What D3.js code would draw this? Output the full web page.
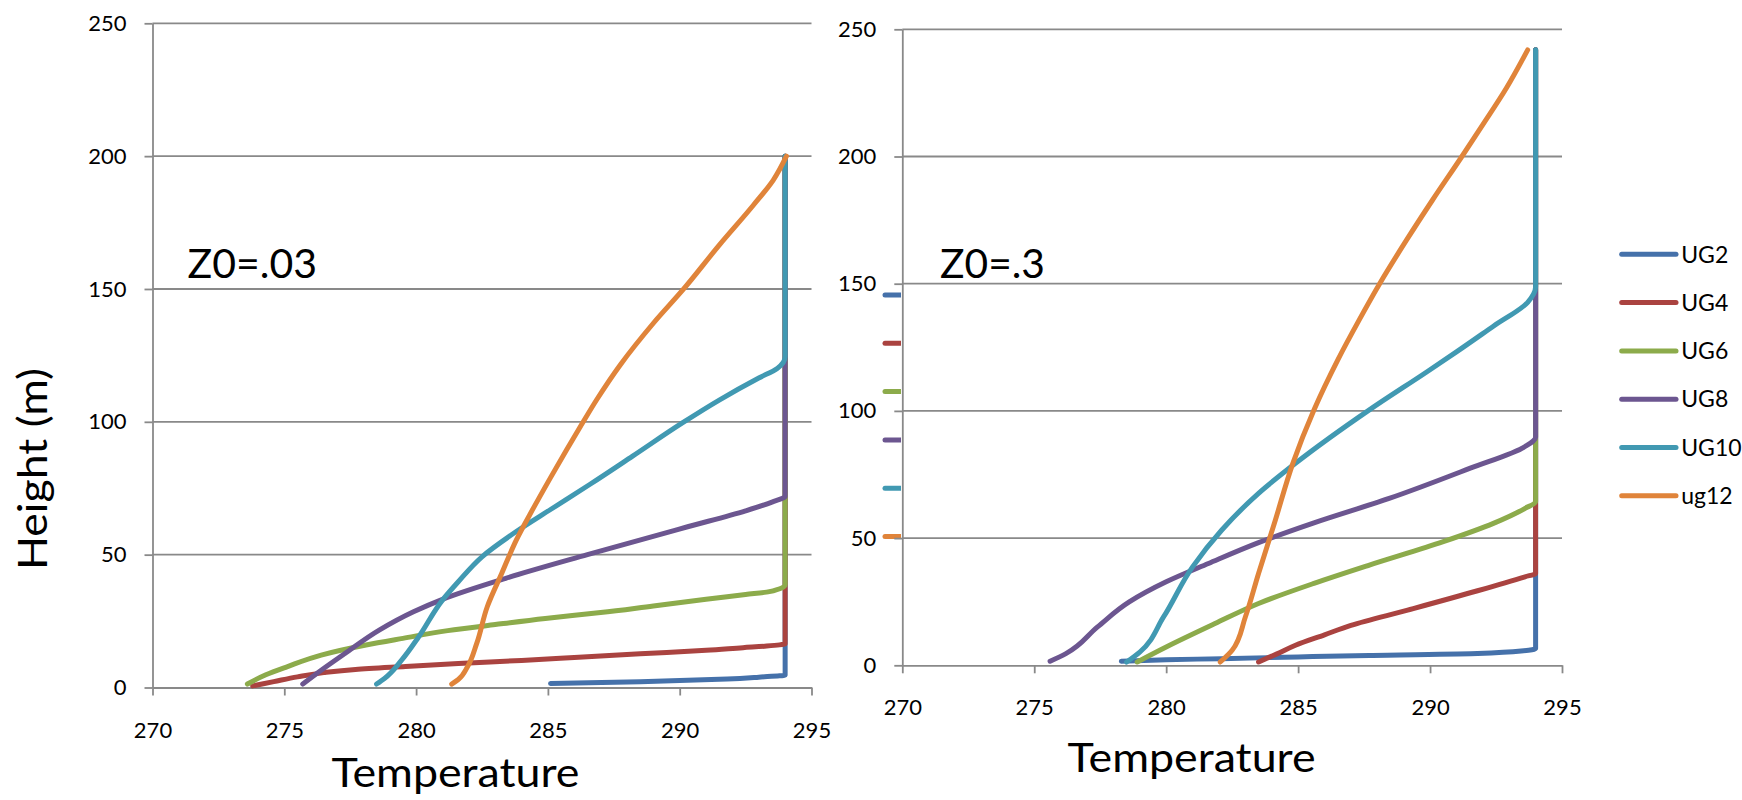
<!DOCTYPE html>
<html>
<head>
<meta charset="utf-8">
<script src="https://cdn.jsdelivr.net/npm/d3@7"></script>
<style>
  html, body { margin: 0; padding: 0; background: #fff; }
  svg { display: block; font-family: Lato, "Open Sans", "Liberation Sans", sans-serif; }
</style>
</head>
<body>
<svg id="chart" width="1742" height="800"></svg>
<script>
// Axis ticks
const tempTicks = [270, 275, 280, 285, 290, 295];
const heightTicks = [0, 50, 100, 150, 200, 250];

// Series names and colours
const seriesNames = ["UG2", "UG4", "UG6", "UG8", "UG10", "ug12"];
const seriesColors = ["#4571aa", "#aa4340", "#8cab4b", "#6c5690", "#4199b2", "#e0843a"];

// Profiles for Z0 = 0.03: [temperature, height]
const ug2_z003 = [[285.1,1.5],[288.5,2.2],[291.8,3.2],[293.0,3.9],[294.0,4.7],[294.0,200]];
const ug4_z003 = [[273.8,0.6],[274.6,2.2],[275.5,4.0],[276.5,5.6],[277.7,6.8],[279.6,7.9],[281.6,9.0],[284.0,10.2],[286.0,11.3],[288.5,12.7],[291.0,14.0],[292.4,15.0],[293.3,15.6],[294.0,16.5],[294.0,200]];
const ug6_z003 = [[273.6,1.3],[274.3,4.8],[275.1,7.8],[276.4,12.2],[278.1,16.0],[279.5,18.5],[281.2,21.4],[283.0,23.7],[284.9,26.0],[287.0,28.2],[289.0,30.7],[291.0,33.2],[292.5,35.0],[293.4,36.1],[294.0,38.6],[294.0,200]];
const ug8_z003 = [[275.7,1.3],[276.4,6.5],[277.3,12.8],[278.6,21.6],[279.9,28.5],[281.0,33.2],[283.4,41.1],[286.5,50.0],[290.3,60.5],[292.5,66.5],[293.5,69.8],[294.0,72.0],[294.0,200]];
const ug10_z003 = [[278.5,1.3],[278.8,3.4],[279.45,10.3],[280.1,19.1],[281.0,32.9],[281.6,39.8],[282.5,49.2],[283.8,58.7],[285.1,67.0],[286.6,76.5],[288.2,87.0],[290.1,99.6],[291.5,108.2],[293.0,116.5],[293.7,120.1],[294.0,124.5],[294.0,200]];
const ug12_z003 = [[281.35,1.3],[281.6,3.0],[281.95,7.8],[282.3,16.6],[282.7,30.4],[283.25,43.0],[283.8,55.5],[284.45,67.5],[285.1,79.0],[285.7,89.3],[286.25,98.5],[286.85,108.3],[287.75,121.5],[289.0,137.1],[290.15,150.0],[291.5,166.5],[292.8,181.6],[293.55,191.0],[294.05,200]];

// Profiles for Z0 = 0.3: [temperature, height]
const ug2_z03 = [[278.3,1.6],[280.0,2.2],[282.1,2.6],[285.0,3.3],[287.7,3.9],[291.8,4.6],[294.0,6.6],[294.0,242]];
const ug4_z03 = [[283.5,1.3],[284.2,4.5],[284.9,7.9],[286.0,12.0],[287.0,15.7],[289.15,21.7],[291.8,29.3],[293.6,34.8],[294.0,36.1],[294.0,242]];
const ug6_z03 = [[278.9,1.3],[280.0,7.2],[281.85,16.4],[283.5,24.3],[285.6,32.2],[287.7,39.4],[290.5,48.6],[292.4,55.8],[293.6,61.7],[294.0,64.3],[294.0,242]];
const ug8_z03 = [[275.6,1.6],[276.2,4.6],[277.4,15.1],[278.6,24.9],[280.0,32.8],[281.6,40.0],[283.5,48.2],[285.6,56.0],[288.45,65.6],[291.5,77.4],[293.6,86.0],[294.0,89.6],[294.0,242]];
const ug10_z03 = [[278.5,1.3],[279.0,5.2],[279.9,19.0],[281.0,38.7],[282.1,53.1],[283.5,67.6],[284.9,79.4],[287.7,100.4],[289.9,115.5],[291.0,123.2],[292.4,133.3],[293.7,142.7],[294.0,148.8],[294.0,242]];
const ug12_z03 = [[282.05,1.3],[282.5,5.9],[283.0,19.0],[283.5,36.1],[284.1,55.8],[284.8,79.4],[285.6,100.4],[286.5,120.0],[287.3,135.5],[288.1,150.2],[289.1,167.0],[290.1,183.0],[291.2,199.9],[292.0,212.5],[292.9,227.0],[293.7,241.9]];

const panelLabels = ["Z0=.03", "Z0=.3"];
const xTitle = "Temperature";
const yTitle = "Height (m)";

const svg = d3.select("#chart");
const gridColor = "#898989";

const panels = [
  {
    series: [ug2_z003, ug4_z003, ug6_z003, ug8_z003, ug10_z003, ug12_z003],
    x0: 152.5, x1: 811.5, y0: 687.5, y1: 23.3,
    label: panelLabels[0], labelX: 187.5, labelY: 278, labelLen: 129.5,
    titleX: 455.5, titleY: 786.7, xPad: 27,
    legend: { x: 885, y: 295, clip: 901, text: false }
  },
  {
    series: [ug2_z03, ug4_z03, ug6_z03, ug8_z03, ug10_z03, ug12_z03],
    x0: 902.3, x1: 1562, y0: 665.3, y1: 29.3,
    label: panelLabels[1], labelX: 940, labelY: 278, labelLen: 105,
    titleX: 1191.6, titleY: 771.7, xPad: 26,
    legend: { x: 1621.7, y: 254.3, clip: null, text: true }
  }
];

panels.forEach((p, pi) => {
  const x = d3.scaleLinear().domain([270, 295]).range([p.x0, p.x1]);
  const y = d3.scaleLinear().domain([0, 250]).range([p.y0, p.y1]);
  const g = svg.append("g").attr("class", "panel-" + pi);

  // legend swatches (drawn first so the next panel's plot area sits over them)
  const leg = g.append("g").attr("class", "legend");
  if (p.legend.clip !== null) {
    const cid = "legclip" + pi;
    svg.append("defs").append("clipPath").attr("id", cid)
      .append("rect").attr("x", 0).attr("y", 0).attr("width", p.legend.clip).attr("height", 800);
    leg.attr("clip-path", `url(#${cid})`);
  }
  seriesNames.forEach((name, i) => {
    const ly = p.legend.y + i * 48.3;
    leg.append("line")
      .attr("x1", p.legend.x).attr("x2", p.legend.x + 54.3)
      .attr("y1", ly).attr("y2", ly)
      .attr("stroke", seriesColors[i]).attr("stroke-width", 5)
      .attr("stroke-linecap", "round");
    if (p.legend.text) {
      leg.append("text")
        .attr("x", p.legend.x + 59.5).attr("y", ly).attr("dy", "0.36em")
        .attr("font-size", 23).attr("fill", "#000")
        .text(name);
    }
  });

  // plot background
  g.append("rect")
    .attr("x", p.x0).attr("y", p.y1)
    .attr("width", p.x1 - p.x0).attr("height", p.y0 - p.y1)
    .attr("fill", "#fff");

  // horizontal gridlines
  g.append("g").selectAll("line").data(heightTicks.filter(d => d > 0)).join("line")
    .attr("x1", p.x0).attr("x2", p.x1)
    .attr("y1", d => y(d)).attr("y2", d => y(d))
    .attr("stroke", gridColor).attr("stroke-width", 1.8);

  // axes
  const yAxis = g.append("g").attr("transform", `translate(${p.x0},0)`)
    .call(d3.axisLeft(y).tickValues(heightTicks).tickSize(8).tickPadding(18).tickSizeOuter(0));
  const xAxis = g.append("g").attr("transform", `translate(0,${p.y0})`)
    .call(d3.axisBottom(x).tickValues(tempTicks).tickSize(8).tickPadding(p.xPad).tickSizeOuter(0));
  [yAxis, xAxis].forEach(a => {
    a.select(".domain").attr("stroke", gridColor).attr("stroke-width", 1.8);
    a.selectAll(".tick line").attr("stroke", gridColor).attr("stroke-width", 1.8);
    a.selectAll(".tick text").attr("font-size", 22).attr("fill", "#000")
      .attr("font-family", "Lato, 'Open Sans', sans-serif");
  });

  // series lines
  const line = d3.line().x(d => x(d[0])).y(d => y(d[1])).curve(d3.curveMonotoneY);
  g.append("g").selectAll("path").data(p.series).join("path")
    .attr("d", d => line(d))
    .attr("fill", "none")
    .attr("stroke", (d, i) => seriesColors[i])
    .attr("stroke-width", 5)
    .attr("stroke-linejoin", "round")
    .attr("stroke-linecap", "round");

  // roughness label
  g.append("text")
    .attr("x", p.labelX).attr("y", p.labelY)
    .attr("font-size", 41).attr("fill", "#000")
    .attr("textLength", p.labelLen).attr("lengthAdjust", "spacingAndGlyphs")
    .text(p.label);

  // x axis title
  g.append("text")
    .attr("x", p.titleX).attr("y", p.titleY)
    .attr("text-anchor", "middle")
    .attr("font-size", 41).attr("fill", "#000")
    .attr("textLength", 248).attr("lengthAdjust", "spacingAndGlyphs")
    .text(xTitle);
});

// y axis title (left panel only)
svg.append("text")
  .attr("transform", "translate(47,469) rotate(-90)")
  .attr("text-anchor", "middle")
  .attr("font-size", 41).attr("fill", "#000")
  .attr("textLength", 202).attr("lengthAdjust", "spacingAndGlyphs")
  .text(yTitle);
</script>
</body>
</html>
